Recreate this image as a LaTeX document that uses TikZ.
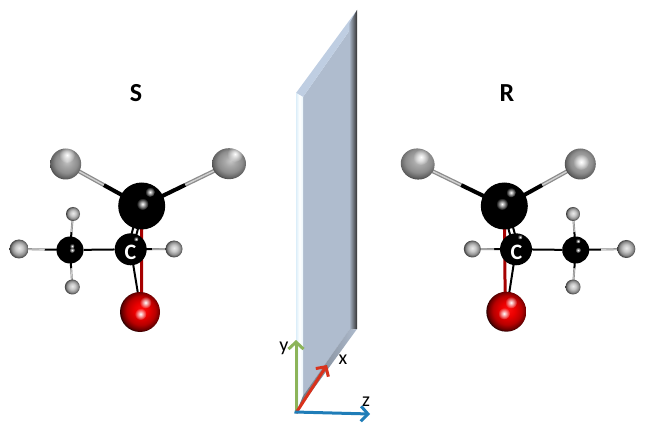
\documentclass[tikz,border=0pt]{standalone}
\usepackage{fontspec}
\setmainfont{Carlito}
\usepackage{tikz}
\usetikzlibrary{arrows.meta}
\usetikzlibrary{calc}
\usetikzlibrary{backgrounds}
\usetikzlibrary{fadings}
\usetikzlibrary{shapes.geometric}
\definecolor{planeblue}{HTML}{AFBCCE}
\definecolor{planetop}{HTML}{BFCEE2}
\definecolor{planeedge}{HTML}{DCEEF9}
\definecolor{axisgreen}{HTML}{8CB45A}
\definecolor{axisred}{HTML}{D9321C}
\definecolor{axisblue}{HTML}{1F7DB8}
\pgfdeclareradialshading{clball}{\pgfpoint{2bp}{5bp}}{color(0bp)=(white!78!black); color(8bp)=(white!66!black); color(18bp)=(white!55!black); color(25bp)=(white!38!black); color(30bp)=(black!85); color(50bp)=(black)}
\pgfdeclareradialshading{hball}{\pgfpoint{0bp}{3bp}}{color(0bp)=(white!92!black); color(10bp)=(white!78!black); color(19bp)=(white!55!black); color(25bp)=(black!75); color(50bp)=(black)}
\pgfdeclareradialshading{oball}{\pgfpoint{2bp}{3bp}}{color(0bp)=(red!95!white); color(9bp)=(red!92!black); color(18bp)=(red!72!black); color(24bp)=(red!40!black); color(28bp)=(black); color(50bp)=(black)}
\tikzfading[name=glowfade,inner color=transparent!0,outer color=transparent!100]
\tikzset{
  catom/.style={circle,fill=black,inner sep=0pt,minimum size=#1},
  hatom/.style={circle,shading=hball,inner sep=0pt,minimum size=#1},
  clatom/.style={ellipse,shading=clball,inner sep=0pt,minimum width=#1,minimum height=31pt},
  oatom/.style={circle,shading=oball,inner sep=0pt,minimum size=40pt},
  blackbond/.style={black,line width=#1},
  greybond/.style={white!55!black,line width=#1},
  shinebond/.style={white!82!black,line width=0.35*#1},
  redbond/.style={red!65!black,line width=#1},
  axis/.style={line width=3pt,-{Straight Barb[length=7pt,width=15pt]}},
  axislabel/.style={font=\fontsize{20}{20}\selectfont,inner sep=0pt},
  hand/.style={font=\bfseries\fontsize{26}{26}\selectfont,inner sep=0pt},
  atomlabel/.style={font=\bfseries\fontsize{22}{22}\selectfont,text=white,inner sep=0pt}
}
\newcommand{\halfbond}[3]{%
  \draw[blackbond=#3] (#1.center) -- ($(#1)!.5!(#2)$);
  \draw[greybond=#3] ($(#1)!.5!(#2)$) -- (#2.center);
  \draw[shinebond=#3] ($(#1)!.5!(#2)$) -- (#2.center);
}
\newcommand{\shine}[2]{%
  \fill[white,path fading=glowfade] (#1) circle (#2);
}
\begin{document}
\begin{tikzpicture}[x=1pt,y=-1pt]
\useasboundingbox (0,0) rectangle (653,430);
% mirror plane
\fill[planeblue] (303,97) -- (352,27) -- (352,326) -- (303,396) -- cycle;
\fill[planetop] (296,93) -- (357,10) -- (352,27) -- (303,97) -- cycle;
\shade[left color=planeedge,right color=planeedge!60!white,middle color=white] (296,93) -- (303,97) -- (303,396) -- (296,413) -- cycle;
\shade[left color=planeblue,right color=black!80] (349,24) -- (357,10) -- (357,329) -- (349,330) -- cycle;
\shade[left color=planeblue!60!black,right color=planeblue] (303,396) -- (349,330) -- (357,329) -- (296,413) -- cycle;
% left molecule
\node (bigl) [catom=47pt] at (141.7,206) {};
\node (midl) [catom=32pt] at (130.7,249.3) {};
\node (mel) [catom=27pt] at (70,250) {};
\node (cl1l) [clatom=31pt] at (65.7,164) {};
\node (cl2l) [clatom=34pt] at (229,163.7) {};
\node (h1l) [hatom=14pt] at (73,214) {};
\node (h2l) [hatom=19pt] at (19,249) {};
\node (h3l) [hatom=15pt] at (72.3,287) {};
\node (h4l) [hatom=17pt] at (174,249) {};
\node (ol) [oatom] at (140,312) {};
\begin{scope}[on background layer]
\halfbond{bigl}{cl1l}{4pt}
\halfbond{bigl}{cl2l}{4pt}
\halfbond{mel}{h1l}{2pt}
\halfbond{mel}{h2l}{2pt}
\halfbond{mel}{h3l}{2pt}
\halfbond{midl}{h4l}{2pt}
\draw[blackbond=2pt] (mel) -- (midl);
\draw[blackbond=2pt] ([xshift=-3pt]bigl.center) -- ([xshift=-3pt]midl.center);
\draw[blackbond=2pt] ([xshift=2pt]bigl.center) -- ([xshift=2pt]midl.center);
\draw[blackbond=2pt] (midl.center) -- ([xshift=1pt]ol.center);
\draw[redbond=3pt] (bigl.center) -- ([xshift=1.5pt]ol.center);
\end{scope}
\shine{150,192}{5pt}
\shine{142.5,204}{6pt}
\shine{67,155}{8pt}
\shine{235,154}{8pt}
\shine{145.5,302.5}{6pt}
\shine{140.5,314}{6pt}
\shine{72,250}{3pt}
\shine{72,246}{2.5pt}
\shine{136,239}{2.5pt}
\node (cleft) [atomlabel] at (130.5,252) {C};
\node (sign) [hand] at (136,93) {S};
% right molecule
\node (bigr) [catom=47pt] at (504.3,206) {};
\node (midr) [catom=32pt] at (516,249.3) {};
\node (mer) [catom=27pt] at (575.7,250) {};
\node (cl1r) [clatom=34pt,rotate=-12] at (417.7,164) {};
\node (cl2r) [clatom=31pt] at (580.3,164) {};
\node (h1r) [hatom=14pt] at (573,214) {};
\node (h2r) [hatom=18pt] at (626.3,249) {};
\node (h3r) [hatom=15pt] at (573,287) {};
\node (h4r) [hatom=17pt] at (472.3,249) {};
\node (or) [oatom] at (506.3,311.7) {};
\begin{scope}[on background layer]
\halfbond{bigr}{cl1r}{4pt}
\halfbond{bigr}{cl2r}{4pt}
\halfbond{mer}{h1r}{2pt}
\halfbond{mer}{h2r}{2pt}
\halfbond{mer}{h3r}{2pt}
\halfbond{midr}{h4r}{2pt}
\draw[blackbond=2pt] (mer) -- (midr);
\draw[blackbond=2pt] ([xshift=-2pt]bigr.center) -- ([xshift=-2pt]midr.center);
\draw[blackbond=2pt] ([xshift=3pt]bigr.center) -- ([xshift=3pt]midr.center);
\draw[blackbond=2pt] (midr.center) -- (or.center);
\draw[redbond=3pt] (bigr.center) -- ([xshift=-1pt]or.center);
\end{scope}
\shine{511,192.5}{5pt}
\shine{502,204}{6pt}
\shine{421,157}{8pt}
\shine{581,162}{8pt}
\shine{511,302.5}{6pt}
\shine{504,313.5}{6pt}
\shine{578,250}{3pt}
\shine{578,241}{2.5pt}
\shine{520,237}{2.5pt}
\node (cright) [atomlabel] at (516.5,252) {C};
\node (rign) [hand] at (507,93) {R};
% axes
\coordinate (origin) at (296,413);
\coordinate (xtip) at (327,365);
\coordinate (ytip) at (296,340);
\coordinate (ztip) at (370,414);
\draw[axis,color=axisgreen] (origin) -- (ytip);
\draw[axis,color=axisred] (origin) -- (xtip);
\draw[axis,color=axisblue] ([xshift=-1.5pt,yshift=1pt]origin) -- (ztip);
\node (ylabel) [axislabel] at (284,348) {y};
\node (xlabel) [axislabel] at (343,360) {x};
\node (zlabel) [axislabel] at (366,402) {z};
\end{tikzpicture}
\end{document}
